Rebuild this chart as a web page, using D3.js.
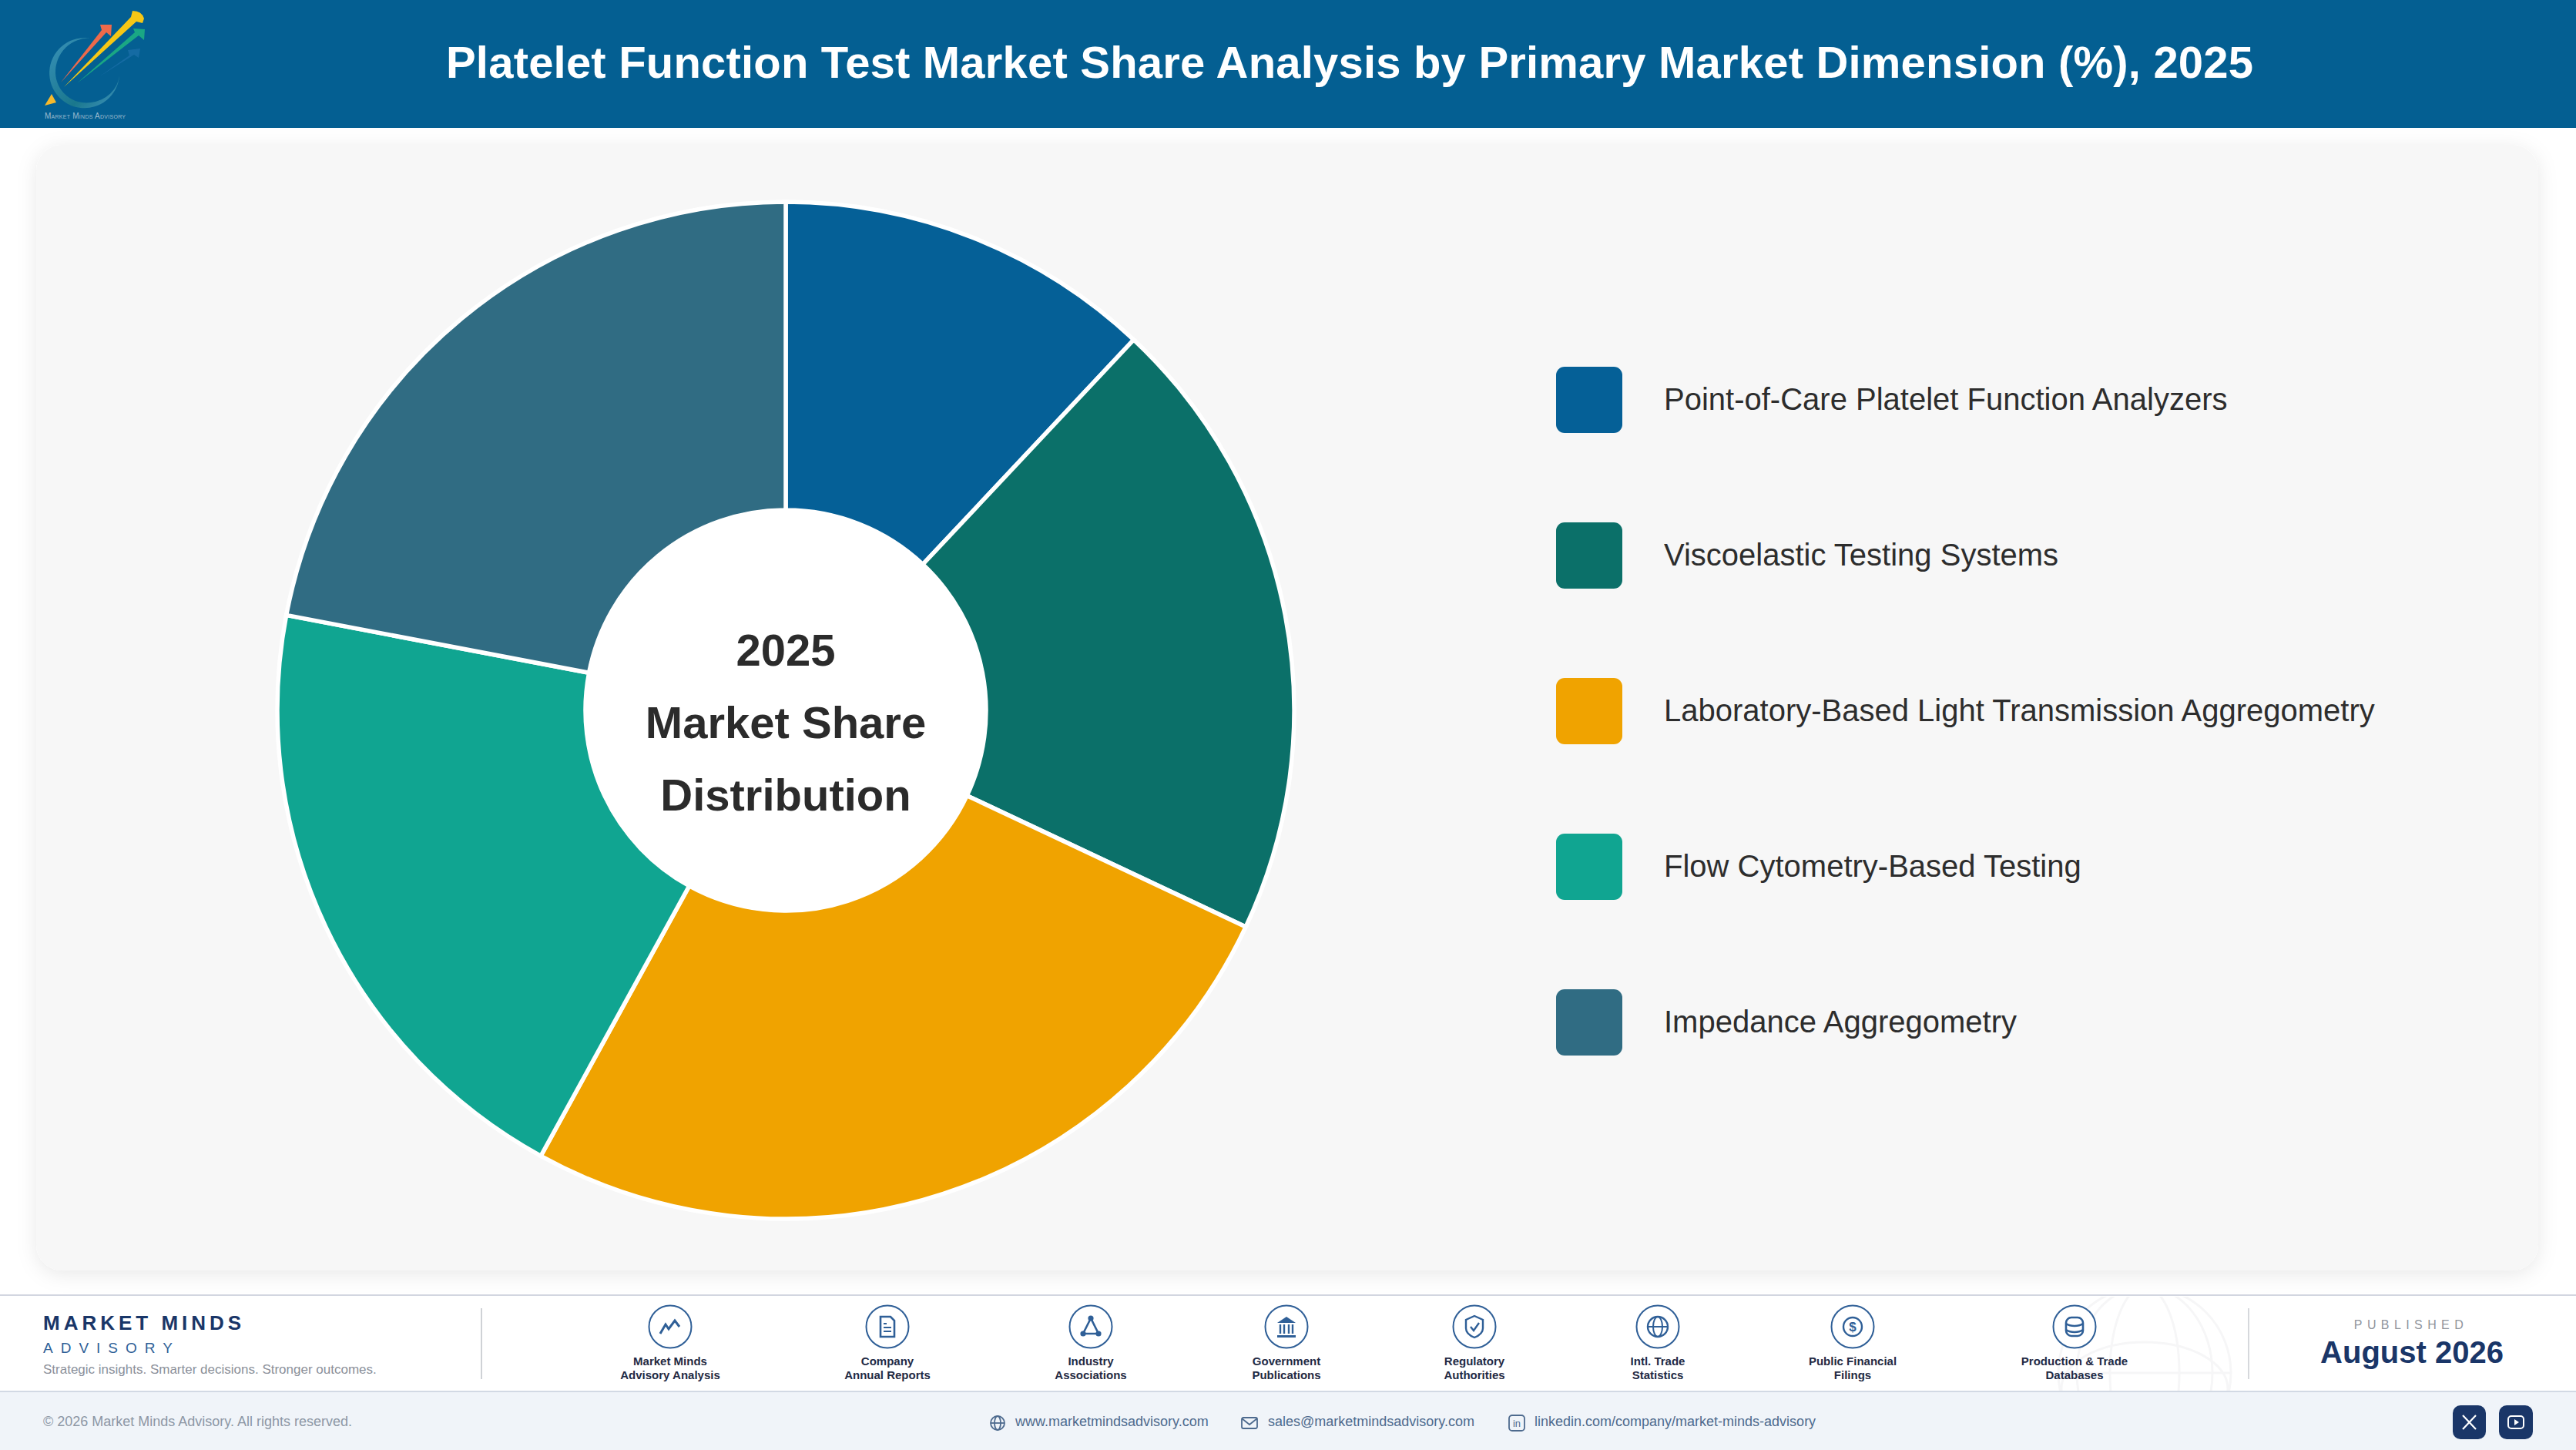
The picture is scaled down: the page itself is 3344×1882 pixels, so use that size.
<!DOCTYPE html>
<html>
<head>
<meta charset="utf-8">
<title>Platelet Function Test Market Share</title>
<script src="https://cdn.jsdelivr.net/npm/d3@7"></script>
<style>
	html, body { margin: 0; padding: 0; background: #fff; }
	svg { display: block; }
	text { font-family: "Liberation Sans", Arial, sans-serif; }
</style>
</head>
<body>
<svg id="canvas" width="3344" height="1882" viewBox="0 0 3344 1882"></svg>
<script>
let categories = [
	'Point-of-Care Platelet Function Analyzers',
	'Viscoelastic Testing Systems',
	'Laboratory-Based Light Transmission Aggregometry',
	'Flow Cytometry-Based Testing',
	'Impedance Aggregometry'
];
let shares = [12, 20, 26, 20, 22];
let colors = ['#056097', '#0b7069', '#f0a300', '#10a591', '#306c83'];

let sourceNames = [
	['Market Minds', 'Advisory Analysis'],
	['Company', 'Annual Reports'],
	['Industry', 'Associations'],
	['Government', 'Publications'],
	['Regulatory', 'Authorities'],
	['Intl. Trade', 'Statistics'],
	['Public Financial', 'Filings'],
	['Production & Trade', 'Databases']
];
let sourceX = [870, 1152, 1416, 1670, 1914, 2152, 2405, 2693];

let canvas = d3.select('#canvas');
let ink = '#2f5f97';
let navy = '#1a3668';

// shadow for the card
let defs = canvas.append('defs');
let shadow = defs.append('filter').attr('id', 'cardShadow')
	.attr('x', '-5%').attr('y', '-5%').attr('width', '110%').attr('height', '110%');
shadow.append('feDropShadow')
	.attr('dx', 0).attr('dy', 5).attr('stdDeviation', 13)
	.attr('flood-color', '#000').attr('flood-opacity', 0.09);
let ringGrad = defs.append('linearGradient').attr('id', 'ringGrad')
	.attr('x1', 0).attr('y1', 0).attr('x2', 1).attr('y2', 1);
ringGrad.append('stop').attr('offset', '0%').attr('stop-color', '#3f97bd');
ringGrad.append('stop').attr('offset', '65%').attr('stop-color', '#1c7a8c');
ringGrad.append('stop').attr('offset', '100%').attr('stop-color', '#4a9cc6');
defs.append('clipPath').attr('id', 'footClip').append('rect')
	.attr('x', 0).attr('y', 1683).attr('width', 3344).attr('height', 122);

// header
canvas.append('rect').attr('x', 0).attr('y', 0).attr('width', 3344).attr('height', 166).attr('fill', '#045f92');
canvas.append('text')
	.attr('x', 1752).attr('y', 101)
	.attr('text-anchor', 'middle')
	.attr('font-size', 58).attr('font-weight', 700).attr('fill', '#fff')
	.attr('textLength', 2346).attr('lengthAdjust', 'spacing')
	.text('Platelet Function Test Market Share Analysis by Primary Market Dimension (%), 2025');

// logo
let logo = canvas.append('g');
logo.append('path')
	.attr('d', 'M118 50 A45.5 45.5 0 1 0 155 98 A42 39 0 0 1 118 133 A40 40 0 0 1 72 95 A42 44 0 0 1 118 50 Z')
	.attr('fill', 'url(#ringGrad)').attr('opacity', 0.9);
logo.append('path').attr('d', 'M67 122 L58 137 L73 133 Z').attr('fill', '#f6b92c');
logo.append('path').attr('d', 'M128 100 L168 72 L166 65 L182 63 L180 75 L174 71 Z').attr('fill', '#1a6ea8').attr('opacity', 0.8);
logo.append('path').attr('d', 'M79 107 L132 39 L130 32 L145 32 L144 47 L138 42 Z').attr('fill', '#ee6a4b');
logo.append('path').attr('d', 'M100 108 L175 42 L173 37 L188 38 L187 52 L180 46 Z').attr('fill', '#1aa784');
logo.append('path').attr('d', 'M83 113 L170 22 L172 14 Q184 14 187 24 L185 30 L177 28 Z').attr('fill', '#f6c715');
logo.append('text').attr('x', 58).attr('y', 154)
	.attr('font-size', 10).attr('fill', '#9dbccf').attr('font-variant', 'small-caps')
	.attr('textLength', 105).attr('lengthAdjust', 'spacing')
	.text('Market Minds Advisory');

// card
canvas.append('rect')
	.attr('x', 47).attr('y', 188).attr('width', 3248).attr('height', 1461)
	.attr('rx', 34)
	.attr('fill', '#f7f7f7')
	.attr('filter', 'url(#cardShadow)');

// donut
let pie = d3.pie().sort(null).value((d) => d);
let arc = d3.arc().innerRadius(260).outerRadius(660);
let donut = canvas.append('g').attr('transform', 'translate(1020,922)');

donut.selectAll('path')
	.data(pie(shares))
	.enter()
	.append('path')
	.attr('d', arc)
	.attr('fill', (d, i) => colors[i])
	.attr('stroke', '#fff')
	.attr('stroke-width', 5.5);

donut.append('circle').attr('r', 262).attr('fill', '#fff');

let centerLines = ['2025', 'Market Share', 'Distribution'];
donut.selectAll('text')
	.data(centerLines)
	.enter()
	.append('text')
	.attr('x', 0)
	.attr('y', (d, i) => -58 + i * 94)
	.attr('text-anchor', 'middle')
	.attr('font-size', 58).attr('font-weight', 700).attr('fill', '#2b2b2b')
	.text((d) => d);

// legend
let legendY = d3.scalePoint().domain(categories).range([519, 1327]);
let legend = canvas.append('g');
let rows = legend.selectAll('g')
	.data(categories)
	.enter()
	.append('g')
	.attr('transform', (d) => 'translate(2020,' + legendY(d) + ')');
rows.append('rect')
	.attr('x', 0).attr('y', -43).attr('width', 86).attr('height', 86).attr('rx', 11)
	.attr('fill', (d, i) => colors[i]);
rows.append('text')
	.attr('x', 140).attr('y', 13)
	.attr('font-size', 40).attr('fill', '#2d2d2d')
	.text((d) => d);

// footer bands
canvas.append('rect').attr('x', 0).attr('y', 1806).attr('width', 3344).attr('height', 76).attr('fill', '#f0f4f9');
canvas.append('rect').attr('x', 0).attr('y', 1680).attr('width', 3344).attr('height', 2).attr('fill', '#d2d6e0');
canvas.append('rect').attr('x', 0).attr('y', 1805).attr('width', 3344).attr('height', 2).attr('fill', '#d2d9e4');

// globe watermark
let globe = canvas.append('g').attr('clip-path', 'url(#footClip)')
	.attr('fill', 'none').attr('stroke', '#f6f6f7').attr('stroke-width', 3);
globe.append('circle').attr('cx', 2784).attr('cy', 1782).attr('r', 112);
globe.append('ellipse').attr('cx', 2784).attr('cy', 1782).attr('rx', 45).attr('ry', 112);
globe.append('ellipse').attr('cx', 2784).attr('cy', 1782).attr('rx', 88).attr('ry', 112);
globe.append('line').attr('x1', 2672).attr('x2', 2896).attr('y1', 1782).attr('y2', 1782);
globe.append('ellipse').attr('cx', 2784).attr('cy', 1802).attr('rx', 108).attr('ry', 60);

// brand block
canvas.append('text').attr('x', 56).attr('y', 1726)
	.attr('font-size', 26).attr('font-weight', 700).attr('fill', navy).attr('letter-spacing', 5)
	.text('MARKET MINDS');
canvas.append('text').attr('x', 56).attr('y', 1756)
	.attr('font-size', 19).attr('fill', ink).attr('letter-spacing', 10)
	.text('ADVISORY');
canvas.append('text').attr('x', 56).attr('y', 1783)
	.attr('font-size', 17).attr('fill', '#8b909a')
	.text('Strategic insights. Smarter decisions. Stronger outcomes.');
canvas.append('rect').attr('x', 624).attr('y', 1698).attr('width', 2).attr('height', 92).attr('fill', '#cfd2d6');
canvas.append('rect').attr('x', 2918).attr('y', 1698).attr('width', 2).attr('height', 92).attr('fill', '#d6d8dc');

// source icons
let iconShapes = [
	(g) => g.append('path').attr('d', 'M-13 9 L-6 -3 L-2 3 L6 -8 L12 0').attr('fill', 'none').attr('stroke', ink).attr('stroke-width', 3),
	(g) => {
		g.append('path').attr('d', 'M-9 -13 H4 L9 -8 V13 H-9 Z').attr('fill', 'none').attr('stroke', ink).attr('stroke-width', 2.6);
		g.append('path').attr('d', 'M-5 1 H5 M-5 6 H5 M-5 -4 H-1').attr('fill', 'none').attr('stroke', ink).attr('stroke-width', 2);
	},
	(g) => {
		g.append('path').attr('d', 'M0 -11 L-10 9 H10 Z').attr('fill', 'none').attr('stroke', ink).attr('stroke-width', 2.6);
		[[0, -11], [-10, 9], [10, 9]].forEach((p) => {
			g.append('circle').attr('cx', p[0]).attr('cy', p[1]).attr('r', 3.6).attr('fill', ink);
		});
	},
	(g) => {
		g.append('path').attr('d', 'M-12 -5 L0 -13 L12 -5 Z').attr('fill', ink);
		g.append('path').attr('d', 'M-8 -3 V9 M-3 -3 V9 M3 -3 V9 M8 -3 V9').attr('stroke', ink).attr('stroke-width', 2.4);
		g.append('rect').attr('x', -12).attr('y', 11).attr('width', 24).attr('height', 3).attr('fill', ink);
	},
	(g) => {
		g.append('path').attr('d', 'M0 -14 L11 -9 V2 C11 8 5 12 0 14 C-5 12 -11 8 -11 2 V-9 Z').attr('fill', 'none').attr('stroke', ink).attr('stroke-width', 2.4);
		g.append('path').attr('d', 'M-5 0 L-1 5 L6 -5').attr('fill', 'none').attr('stroke', ink).attr('stroke-width', 2.4);
	},
	(g) => {
		g.append('circle').attr('r', 13).attr('fill', 'none').attr('stroke', ink).attr('stroke-width', 2.4);
		g.append('ellipse').attr('rx', 6).attr('ry', 13).attr('fill', 'none').attr('stroke', ink).attr('stroke-width', 2);
		g.append('line').attr('x1', -13).attr('x2', 13).attr('stroke', ink).attr('stroke-width', 2);
	},
	(g) => {
		g.append('circle').attr('r', 12).attr('fill', 'none').attr('stroke', ink).attr('stroke-width', 2.4);
		g.append('text').attr('text-anchor', 'middle').attr('y', 6).attr('font-size', 17).attr('font-weight', 700).attr('fill', ink).text('$');
	},
	(g) => {
		g.append('rect').attr('x', -11).attr('y', -12).attr('width', 22).attr('height', 24).attr('rx', 7).attr('fill', 'none').attr('stroke', ink).attr('stroke-width', 2.6);
		g.append('path').attr('d', 'M-11 -4 C-5 0 5 0 11 -4 M-11 4 C-5 8 5 8 11 4').attr('fill', 'none').attr('stroke', ink).attr('stroke-width', 2.4);
	}
];

let sources = canvas.append('g').selectAll('g')
	.data(sourceNames)
	.enter()
	.append('g')
	.attr('transform', (d, i) => 'translate(' + sourceX[i] + ',0)');
sources.append('circle')
	.attr('cy', 1722).attr('r', 27.5)
	.attr('fill', '#fff').attr('stroke', ink).attr('stroke-width', 2);
sources.each(function (d, i) {
	let g = d3.select(this).append('g').attr('transform', 'translate(0,1722)');
	iconShapes[i](g);
});
sources.append('text')
	.attr('y', 1772).attr('text-anchor', 'middle')
	.attr('font-size', 15).attr('font-weight', 700).attr('fill', '#1f2a44')
	.text((d) => d[0]);
sources.append('text')
	.attr('y', 1790).attr('text-anchor', 'middle')
	.attr('font-size', 15).attr('font-weight', 700).attr('fill', '#1f2a44')
	.text((d) => d[1]);

// published
canvas.append('text').attr('x', 3130).attr('y', 1725).attr('text-anchor', 'middle')
	.attr('font-size', 16).attr('fill', '#8f949c').attr('letter-spacing', 6.4)
	.text('PUBLISHED');
canvas.append('text').attr('x', 3131).attr('y', 1769).attr('text-anchor', 'middle')
	.attr('font-size', 40).attr('font-weight', 700).attr('fill', navy)
	.text('August 2026');

// bottom bar
let linkColor = '#4d6a8e';
canvas.append('text').attr('x', 56).attr('y', 1851)
	.attr('font-size', 18).attr('fill', '#8d97a5')
	.text('\u00a9 2026 Market Minds Advisory. All rights reserved.');

let linkLabels = ['www.marketmindsadvisory.com', 'sales@marketmindsadvisory.com', 'linkedin.com/company/market-minds-advisory'];
let linkX = [1318, 1646, 1992];
canvas.append('g').selectAll('text')
	.data(linkLabels)
	.enter()
	.append('text')
	.attr('x', (d, i) => linkX[i]).attr('y', 1851)
	.attr('font-size', 18).attr('fill', linkColor)
	.text((d) => d);

let g1 = canvas.append('g').attr('transform', 'translate(1295,1847)').attr('fill', 'none').attr('stroke', linkColor).attr('stroke-width', 1.8);
g1.append('circle').attr('r', 9);
g1.append('ellipse').attr('rx', 4).attr('ry', 9);
g1.append('line').attr('x1', -9).attr('x2', 9);
let g2 = canvas.append('g').attr('transform', 'translate(1622,1847)').attr('fill', 'none').attr('stroke', linkColor).attr('stroke-width', 1.8);
g2.append('rect').attr('x', -10).attr('y', -7).attr('width', 20).attr('height', 14).attr('rx', 2);
g2.append('path').attr('d', 'M-10 -6 L0 2 L10 -6');
let g3 = canvas.append('g').attr('transform', 'translate(1969,1847)');
g3.append('rect').attr('x', -10).attr('y', -10).attr('width', 20).attr('height', 20).attr('rx', 4).attr('fill', 'none').attr('stroke', linkColor).attr('stroke-width', 1.8);
g3.append('text').attr('text-anchor', 'middle').attr('y', 5).attr('font-size', 13).attr('fill', linkColor).text('in');

// social buttons
canvas.append('rect').attr('x', 3184).attr('y', 1824).attr('width', 43).attr('height', 44).attr('rx', 10).attr('fill', navy);
canvas.append('path').attr('d', 'M3197 1837 L3214 1855 M3214 1837 L3197 1855').attr('stroke', '#fff').attr('stroke-width', 2.2);
canvas.append('rect').attr('x', 3244).attr('y', 1824).attr('width', 44).attr('height', 44).attr('rx', 10).attr('fill', navy);
canvas.append('rect').attr('x', 3256).attr('y', 1838).attr('width', 20).attr('height', 16).attr('rx', 4).attr('fill', 'none').attr('stroke', '#fff').attr('stroke-width', 2);
canvas.append('path').attr('d', 'M3264 1842 L3270 1846 L3264 1850 Z').attr('fill', '#fff');
</script>
</body>
</html>
